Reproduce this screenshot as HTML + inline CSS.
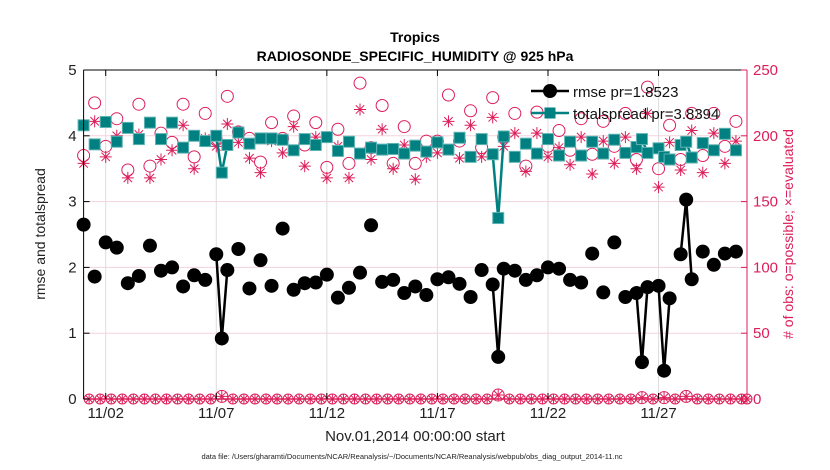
<!DOCTYPE html>
<html><head><meta charset="utf-8"><style>
html,body{margin:0;padding:0;background:#fff;}
svg{display:block;font-family:"Liberation Sans",Arial,sans-serif;}
</style></head><body>
<svg id="chart" width="830" height="470" viewBox="0 0 830 470">
<text x="415" y="42" text-anchor="middle" font-size="14" font-weight="bold">Tropics</text>
<text x="415" y="61" text-anchor="middle" font-size="14" font-weight="bold">RADIOSONDE_SPECIFIC_HUMIDITY @ 925 hPa</text>
<g id="grid"></g>
<g id="marks"></g>
<g id="axes"></g>
<text x="415" y="441" text-anchor="middle" font-size="15" fill="#222">Nov.01,2014 00:00:00 start</text>
<text transform="translate(45,234) rotate(-90)" text-anchor="middle" font-size="14" fill="#222">rmse and totalspread</text>
<text transform="translate(793,234) rotate(-90)" text-anchor="middle" font-size="14" fill="#dc1e5a"># of obs: o=possible; ×=evaluated</text>
<text x="412" y="459" text-anchor="middle" font-size="7.5" fill="#222">data file: /Users/gharamti/Documents/NCAR/Reanalysis/~/Documents/NCAR/Reanalysis/webpub/obs_diag_output_2014-11.nc</text>
<g id="legend"></g>
</svg>
<script>
// ---- data (days since 11/01 00Z) ----
const times = [0,0.5,1,1.5,2,2.5,3,3.5,4,4.5,5,5.5,6,6.25,6.5,7,7.5,8,8.5,9,9.5,10,10.5,11,11.5,12,12.5,13,13.5,14,14.5,15,15.5,16,16.5,17,17.5,18,18.5,18.75,19,19.5,20,20.5,21,21.5,22,22.5,23,23.5,24,24.5,25,25.25,25.5,26,26.25,26.5,27,27.25,27.5,28,28.5,29,29.5];
const rmse = [2.65,1.86,2.38,2.30,1.76,1.87,2.33,1.95,2.00,1.71,1.88,1.81,2.20,0.92,1.96,2.28,1.68,2.11,1.72,2.59,1.66,1.76,1.77,1.89,1.54,1.69,1.92,2.64,1.78,1.81,1.61,1.71,1.58,1.82,1.85,1.75,1.55,1.96,1.74,0.64,1.98,1.95,1.81,1.88,2.00,1.98,1.81,1.77,2.21,1.62,2.38,1.55,1.61,0.56,1.70,1.72,0.43,1.53,2.20,3.03,1.82,2.24,2.04,2.21,2.24];
const spread = [4.16,3.87,4.21,3.91,4.12,3.95,4.20,3.95,4.20,3.82,4.00,3.92,4.00,3.44,3.86,4.05,3.88,3.96,3.96,3.94,3.78,3.95,3.86,3.98,3.77,3.91,3.73,3.82,3.79,3.80,3.73,3.85,3.76,3.90,3.79,3.97,3.68,3.95,3.72,2.75,3.99,3.68,3.88,3.73,3.95,3.70,3.91,3.70,3.91,3.73,3.94,3.74,3.83,3.95,3.74,3.81,3.68,3.64,3.86,3.91,3.67,3.89,3.78,4.03,3.78];
const possible = [185,225,192,213,174,224,177,202,195,224,184,217,197,2,230,203,198,180,210,198,215,193,210,176,205,179,240,191,223,179,207,179,196,196,231,196,219,191,229,3,199,217,177,218,192,204,189,213,186,211,192,217,182,1,237,175,1,208,182,2,217,185,217,192,211];
const evaluated = [179,211,184,200,168,201,168,182,189,208,175,198,192,2,209,195,183,172,196,187,207,177,199,168,192,168,220,182,205,175,193,167,184,187,211,183,208,184,214,3,192,202,173,202,184,191,178,199,171,196,179,199,175,1,217,161,1,195,174,2,204,172,202,179,196];
const xTicks = [1,6,11,16,21,26];
const xTickLabels = ["11/02","11/07","11/12","11/17","11/22","11/27"];
const yTicksLeft = [0,1,2,3,4,5];
const yTicksRight = [0,50,100,150,200,250];

const NS="http://www.w3.org/2000/svg";
const X0=83.6,X1=747,Y0=399,Y1=70;
const xs=d=>X0+(d/30)*(X1-X0);
const yl=v=>Y0-(v/5)*(Y0-Y1);
const yr=v=>Y0-(v/250)*(Y0-Y1);
const RED="#dc1e5a",TEAL="#008080";
function mk(tag,parent,attrs){const e=document.createElementNS(NS,tag);for(const k in attrs)e.setAttribute(k,attrs[k]);parent.appendChild(e);return e;}
const grid=document.getElementById('grid'),marks=document.getElementById('marks'),axes=document.getElementById('axes');

xTicks.forEach(t=>{const l=mk('line',grid,{x1:xs(t),x2:xs(t),y1:Y1,y2:Y0,stroke:'#dcdcdc','stroke-width':1});

});
yTicksRight.forEach(t=>{if(t===0||t===250)return;const l=mk('line',grid,{x1:X0,x2:X1,y1:yr(t),y2:yr(t),stroke:'#f2d3dc','stroke-width':1});

});

const zg=mk('g',marks,{});


mk('line',zg,{x1:X0,x2:X1,y1:Y0,y2:Y0,stroke:RED,'stroke-width':1.5});
for(let i=0;i<=120;i++){const d=i*0.25;if(times.indexOf(d)>=0)continue;const cx=xs(d),cy=yr(0);
mk('circle',zg,{cx:cx,cy:cy,r:5,fill:'none',stroke:RED,'stroke-width':1});
drawStar(zg,cx,cy,5);}
function drawStar(g,cx,cy,r){const a=r*0.7;
mk('path',g,{d:`M${cx-r} ${cy}H${cx+r}M${cx} ${cy-r}V${cy+r}M${cx-a} ${cy-a}L${cx+a} ${cy+a}M${cx-a} ${cy+a}L${cx+a} ${cy-a}`,stroke:RED,'stroke-width':1,fill:'none'});}

times.forEach((d,i)=>{
 const c=mk('circle',marks,{cx:xs(d),cy:yr(possible[i]),r:6,fill:'none',stroke:RED,'stroke-width':1});
 
 
 const g=mk('g',marks,{});
 
 
 drawStar(g,xs(d),yr(evaluated[i]),6);
});

function seriesLines(vals,color,name){
 for(let i=1;i<times.length;i++){if(times[i]-times[i-1]<=0.26){
  const l=mk('line',marks,{x1:xs(times[i-1]),y1:yl(vals[i-1]),x2:xs(times[i]),y2:yl(vals[i]),stroke:color,'stroke-width':2.5});
  
  }}
}
seriesLines(spread,TEAL,'totalspread-line');
times.forEach((d,i)=>{const s=mk('rect',marks,{x:xs(d)-5.5,y:yl(spread[i])-5.5,width:11,height:11,fill:TEAL,stroke:'#5fb3b3','stroke-width':1});
 
 });
seriesLines(rmse,'#000','rmse-line');
times.forEach((d,i)=>{const c=mk('circle',marks,{cx:xs(d),cy:yl(rmse[i]),r:7,fill:'#000'});
 
 });

mk('line',axes,{x1:X0,x2:X0,y1:Y1,y2:Y0,stroke:'#000','stroke-width':1});
mk('line',axes,{x1:X1,x2:X1,y1:Y1,y2:Y0,stroke:RED,'stroke-width':1});
mk('line',axes,{x1:X0,x2:X1,y1:Y1,y2:Y1,stroke:'#000','stroke-width':1});
yTicksLeft.forEach(t=>{mk('line',axes,{x1:X0,x2:X0+6,y1:yl(t),y2:yl(t),stroke:'#000'});
 const tx=mk('text',axes,{x:X0-7,y:yl(t)+5,'text-anchor':'end','font-size':15,fill:'#222'});tx.textContent=t;
 
 });
yTicksRight.forEach(t=>{mk('line',axes,{x1:X1-6,x2:X1,y1:yr(t),y2:yr(t),stroke:RED});
 const tx=mk('text',axes,{x:X1+6,y:yr(t)+5,'font-size':15,fill:RED});tx.textContent=t;
 
 });
xTicks.forEach((t,i)=>{mk('line',axes,{x1:xs(t),x2:xs(t),y1:Y1,y2:Y1+6,stroke:'#000'});
 mk('line',axes,{x1:xs(t),x2:xs(t),y1:Y0-6,y2:Y0,stroke:'#000'});
 const tx=mk('text',axes,{x:xs(t),y:Y0+19,'text-anchor':'middle','font-size':15,fill:'#222'});tx.textContent=xTickLabels[i];
 
 });

const lg=document.getElementById('legend');
mk('line',lg,{x1:531,x2:569,y1:91,y2:91,stroke:'#000','stroke-width':2.5});
mk('circle',lg,{cx:550,cy:91,r:7,fill:'#000'});
const t1=mk('text',lg,{x:573,y:97,'font-size':15,fill:'#111'});t1.textContent='rmse pr=1.8523';


mk('line',lg,{x1:531,x2:569,y1:113,y2:113,stroke:TEAL,'stroke-width':2.5});
mk('rect',lg,{x:544.5,y:107.5,width:11,height:11,fill:TEAL});
const t2=mk('text',lg,{x:573,y:119,'font-size':15,fill:'#111'});t2.textContent='totalspread pr=3.8394';


</script>
</body></html>
